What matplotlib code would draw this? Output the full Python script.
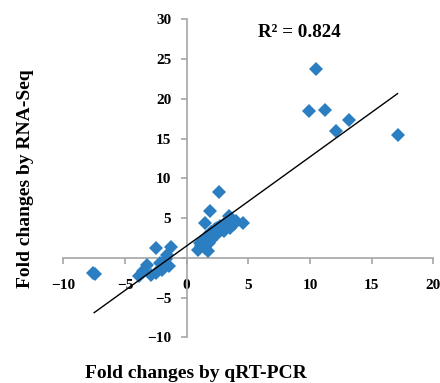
import numpy as np
import matplotlib
matplotlib.use('Agg')
import matplotlib.pyplot as plt

# fold changes, qRT-PCR (x) vs RNA-Seq (y)
qpcr = [-7.6, -7.45, -3.9, -3.5, -3.2, -2.9, -2.5, -2.5, -2.2, -2.0, -1.65, -1.6, -1.4, -1.3,
        0.9, 1.2, 1.5, 1.7, 1.4, 1.8, 2.0, 1.6, 2.2, 2.5, 2.0, 2.8, 2.5, 3.0, 3.2, 3.5,
        3.0, 3.8, 2.7, 2.3, 3.4, 1.5, 1.9, 2.6, 4.6, 4.0, 3.6, 1.1,
        9.9, 10.5, 11.2, 12.1, 13.2, 17.1]
rnaseq = [-1.9, -2.0, -2.3, -1.7, -0.9, -2.1, -1.9, 1.2, -0.6, -1.5, -0.2, 0.4, -1.05, 1.4,
          1.0, 1.5, 1.2, 0.9, 2.0, 1.8, 2.3, 2.6, 2.8, 3.0, 3.3, 3.5, 3.8, 3.4, 4.0, 3.8,
          4.3, 4.2, 4.0, 3.6, 5.3, 4.4, 5.9, 8.3, 4.4, 4.6, 4.8, 1.9,
          18.5, 23.7, 18.6, 16.0, 17.3, 15.5]
r2_text = 'R² = 0.824'
# trendline
slope, intercept = 1.12, 1.5

x = np.array(qpcr)
y = np.array(rnaseq)

plt.rcParams['font.family'] = 'Liberation Serif'
plt.rcParams['font.weight'] = 'bold'

fig = plt.figure(figsize=(4.4, 3.83), dpi=100)
ax = fig.add_axes([0.1439, 0.1193, 0.8409, 0.8303])

ax.plot(x, y, linestyle='none', marker='D', markersize=7, color='#2B7EC2',
        markeredgewidth=0, zorder=3)
xl = np.array([x.min() + 0.1, x.max()])
ax.plot(xl, slope * xl + intercept, color='black', linewidth=1.0, zorder=4)

ax.set_xlim(-10, 20)
ax.set_ylim(-10, 30)
ax.set_xticks(range(-10, 21, 5))
ax.set_yticks(range(-10, 31, 5))

for s in ['top', 'right']:
    ax.spines[s].set_visible(False)
for s in ['left', 'bottom']:
    ax.spines[s].set_position(('data', 0))
    ax.spines[s].set_color('#A6A6A6')
    ax.spines[s].set_linewidth(1.2)
ax.tick_params(direction='out', length=4, width=1.2, color='#A6A6A6',
               labelsize=11)
ax.tick_params(axis='x', pad=11)
ax.tick_params(axis='y', pad=7)
for lab in ax.get_xticklabels() + ax.get_yticklabels():
    lab.set_fontweight('bold')

fig.text(0.68, 0.914, r2_text, fontsize=13.7, fontweight='bold', ha='center', va='center')
fig.text(0.445, 0.026, 'Fold changes by qRT-PCR', fontsize=14, fontweight='bold',
         ha='center', va='center')
fig.text(0.059, 0.533, 'Fold changes by RNA-Seq', fontsize=14, fontweight='bold',
         ha='center', va='center', rotation=90)

fig.savefig('out.png', dpi=100)
